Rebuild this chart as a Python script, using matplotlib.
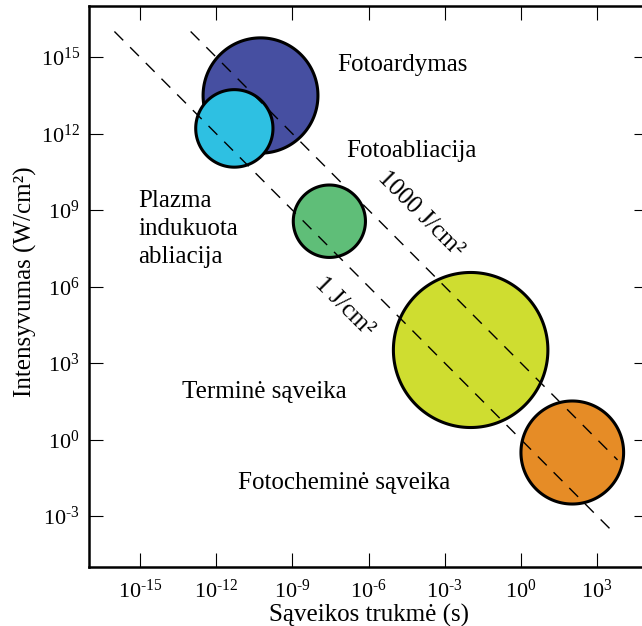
import numpy as np
import matplotlib
matplotlib.use('Agg')
import matplotlib.pyplot as plt
from matplotlib.ticker import FixedLocator, FixedFormatter

plt.rcParams['font.family'] = ['Liberation Serif', 'DejaVu Serif']
plt.rcParams['mathtext.fontset'] = 'custom'
plt.rcParams['mathtext.rm'] = 'Liberation Serif'
plt.rcParams['mathtext.it'] = 'Liberation Serif:italic'

# circles: centre and radius in decades (log10 of s and W/cm2)
circle_logt = [-10.25, -11.28, -7.54, -1.98, 2.02]
circle_logi = [13.49, 12.20, 8.56, 3.51, -0.51]
circle_rad = [2.26, 1.52, 1.42, 3.04, 2.02]
circle_colors = ['#464fa1', '#2ec0e2', '#5fbe78', '#cfdd30', '#e68c26']

# constant fluence lines I * t = F
fluences = [1, 1000]
fluence_tmin = [1e-16, 1e-13]
fluence_tmax = [10**3.75, 10**3.8]
fluence_labels = ['1 J/cm²', '1000 J/cm²']
fluence_label_pos = [(-6.95, 5.22), (-3.97, 8.84)]

region_labels = ['Fotoardymas', 'Fotoabliacija', 'Plazma\nindukuota\nabliacija',
                 'Terminė sąveika', 'Fotocheminė sąveika']
region_pos = [(-4.68, 14.69), (-4.32, 11.31), (-15.07, 8.25), (-13.34, 1.86), (-11.13, -1.71)]
region_ha = ['center', 'center', 'left', 'left', 'left']

xtick_exp = [-15, -12, -9, -6, -3, 0, 3]
ytick_exp = [-3, 0, 3, 6, 9, 12, 15]


def pow_label(e):
    return r'$10^{\text{%d}}$' % e


fig = plt.figure(figsize=(6.42, 6.26), dpi=100)
ax = fig.add_axes([89 / 642, 59 / 626, 559 / 642, 561 / 626])
ax.set_xscale('log')
ax.set_yscale('log')
ax.set_xlim(1e-17, 1e5)
ax.set_ylim(1e-5, 1e17)

for F, t0, t1 in zip(fluences, fluence_tmin, fluence_tmax):
    t = np.array([t0, t1])
    ax.plot(t, F / t, color='black', lw=1.0, ls=(0, (9, 7)), zorder=3)

theta = np.linspace(0, 2 * np.pi, 300)
for cx, cy, r, c in zip(circle_logt, circle_logi, circle_rad, circle_colors):
    ax.fill(10 ** (cx + r * np.cos(theta)), 10 ** (cy + r * np.sin(theta)),
            facecolor=c, edgecolor='black', lw=2.2, zorder=2)

for txt, (lx, ly) in zip(fluence_labels, fluence_label_pos):
    ax.text(10 ** lx, 10 ** ly, txt, rotation=-45, rotation_mode='anchor',
            ha='center', va='center', fontsize=18, zorder=4)

for txt, (lx, ly), ha in zip(region_labels, region_pos, region_ha):
    ax.text(10 ** lx, 10 ** ly, txt, ha=ha, va='center', fontsize=18,
            linespacing=1.36, zorder=4)

ax.xaxis.set_major_locator(FixedLocator([10.0 ** e for e in xtick_exp]))
ax.xaxis.set_major_formatter(FixedFormatter([pow_label(e) for e in xtick_exp]))
ax.yaxis.set_major_locator(FixedLocator([10.0 ** e for e in ytick_exp]))
ax.yaxis.set_major_formatter(FixedFormatter([pow_label(e) for e in ytick_exp]))
ax.minorticks_off()
ax.tick_params(which='major', direction='in', length=10, width=0.8,
               top=True, right=True, labelsize=16)
ax.tick_params(axis='x', pad=9)
ax.tick_params(axis='y', pad=6.5)

for s in ax.spines.values():
    s.set_linewidth(1.8)

ax.set_xlabel('Sąveikos trukmė (s)', fontsize=18, labelpad=1)
ax.set_ylabel('Intensyvumas (W/cm²)', fontsize=18)
ax.yaxis.set_label_coords(-0.093, 0.509)

fig.savefig('out.png', dpi=100)
